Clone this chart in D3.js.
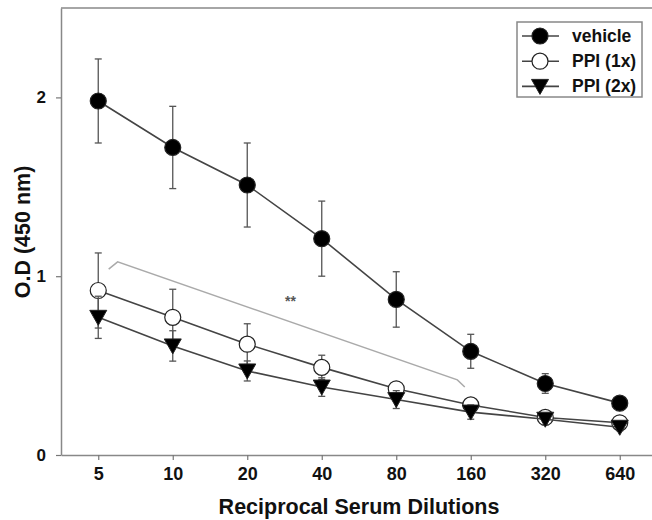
<!DOCTYPE html>
<html lang="en">
<head>
<meta charset="UTF-8">
<script src="https://d3js.org/d3.v7.min.js"></script>
<title>O.D vs dilution</title>
<style>
  body { margin: 0; background: #fff; }
  text { font-family: Arial, "Liberation Sans", sans-serif; font-weight: bold; }
</style>
</head>
<body>
<svg id="chart" width="652" height="520"></svg>
<script>
// dilution categories (x axis)
const dilutions = ["5", "10", "20", "40", "80", "160", "320", "640"];

// mean O.D values and error (SD) per series
const vehicle    = [1.98, 1.72, 1.51, 1.21, 0.87, 0.58, 0.40, 0.29];
const vehicleErr = [0.235, 0.23, 0.235, 0.21, 0.155, 0.095, 0.055, 0.0];
const ppi1       = [0.92, 0.77, 0.62, 0.49, 0.37, 0.28, 0.21, 0.18];
const ppi1Err    = [0.21, 0.157, 0.114, 0.068, 0.03, 0.02, 0.015, 0.0];
const ppi2       = [0.77, 0.61, 0.47, 0.38, 0.31, 0.24, 0.20, 0.155];
const ppi2Err    = [0.118, 0.085, 0.056, 0.052, 0.05, 0.04, 0.03, 0.02];

const yTicks = [0, 1, 2];

// significance bracket (x in category index, y in O.D)
const bracket = [[0.14, 1.04], [0.26, 1.08], [4.82, 0.42], [4.92, 0.38]];
const starPos = [2.58, 0.85];

const svg = d3.select("svg#chart");

const x = d3.scaleLinear().domain([-0.5, 7.5]).range([61, 657]);
const y = d3.scaleLinear().domain([0, 2.5]).range([455, 8]);

// frame top
svg.append("line").attr("x1", 61).attr("x2", 652).attr("y1", y(2.5)).attr("y2", y(2.5))
   .attr("stroke", "#888").attr("stroke-width", 1.5);

const xAxis = svg.append("g")
   .attr("transform", `translate(0,${y(0)})`)
   .call(d3.axisBottom(x).tickValues(d3.range(dilutions.length))
        .tickFormat(i => dilutions[i]).tickSize(5).tickPadding(7).tickSizeOuter(0));
xAxis.select(".domain").attr("stroke", "#888").attr("stroke-width", 1.5);
xAxis.selectAll(".tick line").attr("stroke", "#777").attr("stroke-width", 1.2);
xAxis.selectAll(".tick text").attr("font-size", 18).attr("fill", "#111");

const yAxis = svg.append("g")
   .attr("transform", `translate(${x(-0.5)},0)`)
   .call(d3.axisLeft(y).tickValues(yTicks).tickFormat(d3.format("d"))
        .tickSize(5).tickPadding(10).tickSizeOuter(0));
yAxis.select(".domain").attr("stroke", "#888").attr("stroke-width", 1.5);
yAxis.selectAll(".tick line").attr("stroke", "#777").attr("stroke-width", 1.2);
yAxis.selectAll(".tick text").attr("font-size", 17).attr("fill", "#111");

// axis titles
svg.append("text").attr("x", 359).attr("y", 514).attr("text-anchor", "middle")
   .attr("font-size", 21.5).attr("fill", "#111").text("Reciprocal Serum Dilutions");
svg.append("text").attr("transform", "translate(30,232) rotate(-90)")
   .attr("text-anchor", "middle").attr("font-size", 21.5).attr("fill", "#111")
   .text("O.D (450 nm)");

// bracket + stars
svg.append("path").datum(bracket)
   .attr("d", d3.line().x(d => x(d[0])).y(d => y(d[1])))
   .attr("fill", "none").attr("stroke", "#aaa").attr("stroke-width", 1.5);
svg.append("text").attr("x", x(starPos[0])).attr("y", y(starPos[1]) + 3)
   .attr("text-anchor", "middle").attr("font-size", 14).attr("fill", "#555").text("**");

const series = [
  {name: "vehicle", vals: vehicle, err: vehicleErr, shape: "circle", fill: "#000"},
  {name: "PPI (1x)", vals: ppi1, err: ppi1Err, shape: "circle", fill: "#fff"},
  {name: "PPI (2x)", vals: ppi2, err: ppi2Err, shape: "triangle", fill: "#000"}
];

function marker(g, shape, fill) {
  if (shape === "circle") {
    g.append("circle").attr("r", 8).attr("fill", fill).attr("stroke", "#222").attr("stroke-width", 1.2);
  } else {
    g.append("path").attr("d", "M-8.5,-7 L8.5,-7 L0,8 Z").attr("fill", fill)
     .attr("stroke", "#222").attr("stroke-width", 1);
  }
}

const lineGen = d3.line().x((d, i) => x(i)).y(d => y(d));

series.forEach(s => {
  const g = svg.append("g");
  g.append("path").datum(s.vals).attr("d", lineGen)
   .attr("fill", "none").attr("stroke", "#444").attr("stroke-width", 1.6);
  s.vals.forEach((v, i) => {
    const e = s.err[i];
    if (e <= 0) return;
    const cx = x(i);
    g.append("line").attr("x1", cx).attr("x2", cx).attr("y1", y(v - e)).attr("y2", y(v + e))
     .attr("stroke", "#555").attr("stroke-width", 1.3);
    [v - e, v + e].forEach(t => {
      g.append("line").attr("x1", cx - 3.5).attr("x2", cx + 3.5).attr("y1", y(t)).attr("y2", y(t))
       .attr("stroke", "#555").attr("stroke-width", 1.3);
    });
  });
  s.vals.forEach((v, i) => {
    const m = g.append("g").attr("transform", `translate(${x(i)},${y(v)})`);
    marker(m, s.shape, s.fill);
  });
});

// legend
const legend = svg.append("g").attr("transform", "translate(517,22)");
legend.append("rect").attr("width", 125).attr("height", 75)
   .attr("fill", "#fff").attr("stroke", "#888").attr("stroke-width", 1.5);
series.forEach((s, i) => {
  const row = legend.append("g").attr("transform", `translate(0,${14 + i * 25.2})`);
  row.append("line").attr("x1", 5).attr("x2", 42).attr("stroke", "#444").attr("stroke-width", 1.6);
  marker(row.append("g").attr("transform", "translate(23,0)"), s.shape, s.fill);
  row.append("text").attr("x", 55).attr("y", 6).attr("font-size", 17.5).attr("fill", "#111").text(s.name);
});
</script>
</body>
</html>
